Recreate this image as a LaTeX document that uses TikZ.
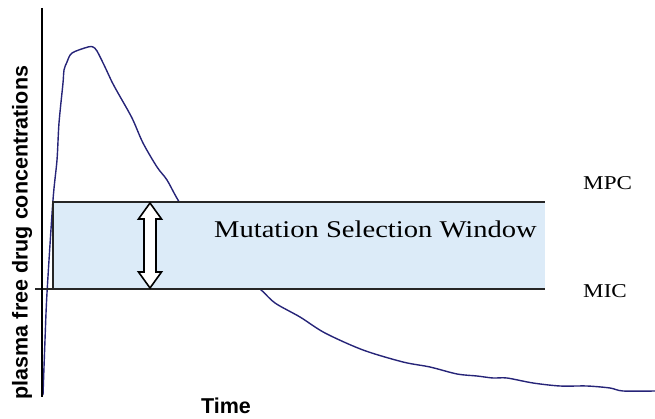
\documentclass[tikz,border=0pt]{standalone}
\usepackage{fontspec}
\setmainfont{Liberation Serif}
\setsansfont{Liberation Sans}
\usetikzlibrary{calc}
\definecolor{windowfill}{RGB}{220,235,248}
\definecolor{curvecol}{RGB}{38,36,120}
\tikzset{
  axisline/.style={line width=2pt, black},
  edgeline/.style={line width=2pt, black!85},
  curveline/.style={line width=1.4pt, curvecol, line join=round},
  levellabel/.style={font=\fontsize{19.6}{19.6}\selectfont, anchor=base west, inner sep=0pt},
  axislabel/.style={font=\sffamily\bfseries\fontsize{21.5}{21.5}\selectfont, inner sep=0pt, anchor=base},
}
\begin{document}
\begin{tikzpicture}[x=1pt, y=-1pt]
\useasboundingbox (0,0) rectangle (655,419);

% concentration curve
\draw[curveline] plot[smooth, tension=0.5] coordinates {
  (43,395) (45,340) (47,293) (53,200) (57,160) (59,123) (63,83) (64,70)
  (67,62) (72,53) (88,47) (93,47) (97,51) (105,67) (112,82) (118,93)
  (132,118) (143,143) (157,167) (167,180) (178,200) (200,235) (230,265)
  (260,289) (275,303) (300,317) (325,333) (363,350) (403,362) (430,367)
  (457,374) (477,376) (493,378) (507,378) (533,383) (560,386) (587,386)
  (610,388) (623,391) (655,391)};

% selection window
\node[fill=windowfill, inner sep=0pt, minimum width=492pt, minimum height=87pt, anchor=north west]
  (window) at (53,202) {};
\coordinate (mpcend) at (545,202);
\coordinate (micstart) at (35,289);
\coordinate (micend) at (545,289);
\draw[edgeline] (window.south west) -- (window.north west) -- (mpcend);
\draw[edgeline] (micstart) -- (micend);

% axis
\coordinate (ytop) at (42,8);
\coordinate (ybot) at (42,397);
\draw[axisline] (ytop) -- (ybot);

% double arrow spanning the window
\coordinate (atop) at (150,203);
\coordinate (abot) at (150,288);
\draw[line width=1.6pt, fill=white, line join=miter]
  (atop) -- ++(11.5,16) -- ++(-5.5,0) -- ($(abot)+(6,-16)$) -- ++(5.5,0)
  -- (abot) -- ++(-11.5,-16) -- ++(5.5,0) -- ($(atop)+(-6,16)$) -- ++(-5.5,0) -- cycle;

% labels
\node[anchor=base west, inner sep=0pt] (wlabel) at (214,238)
  {\scalebox{1.19}[1]{\fontsize{24}{24}\selectfont Mutation Selection Window}};
\node[levellabel] (mpc) at (583,190) {\scalebox{1.18}[1]{MPC}};
\node[levellabel] (mic) at (583,298) {\scalebox{1.18}[1]{MIC}};
\node[axislabel] (timelabel) at (226,413) {Time};
\node[axislabel, rotate=90] (ylabel) at (27.5,232.5) {plasma free drug concentrations};
\end{tikzpicture}
\end{document}
